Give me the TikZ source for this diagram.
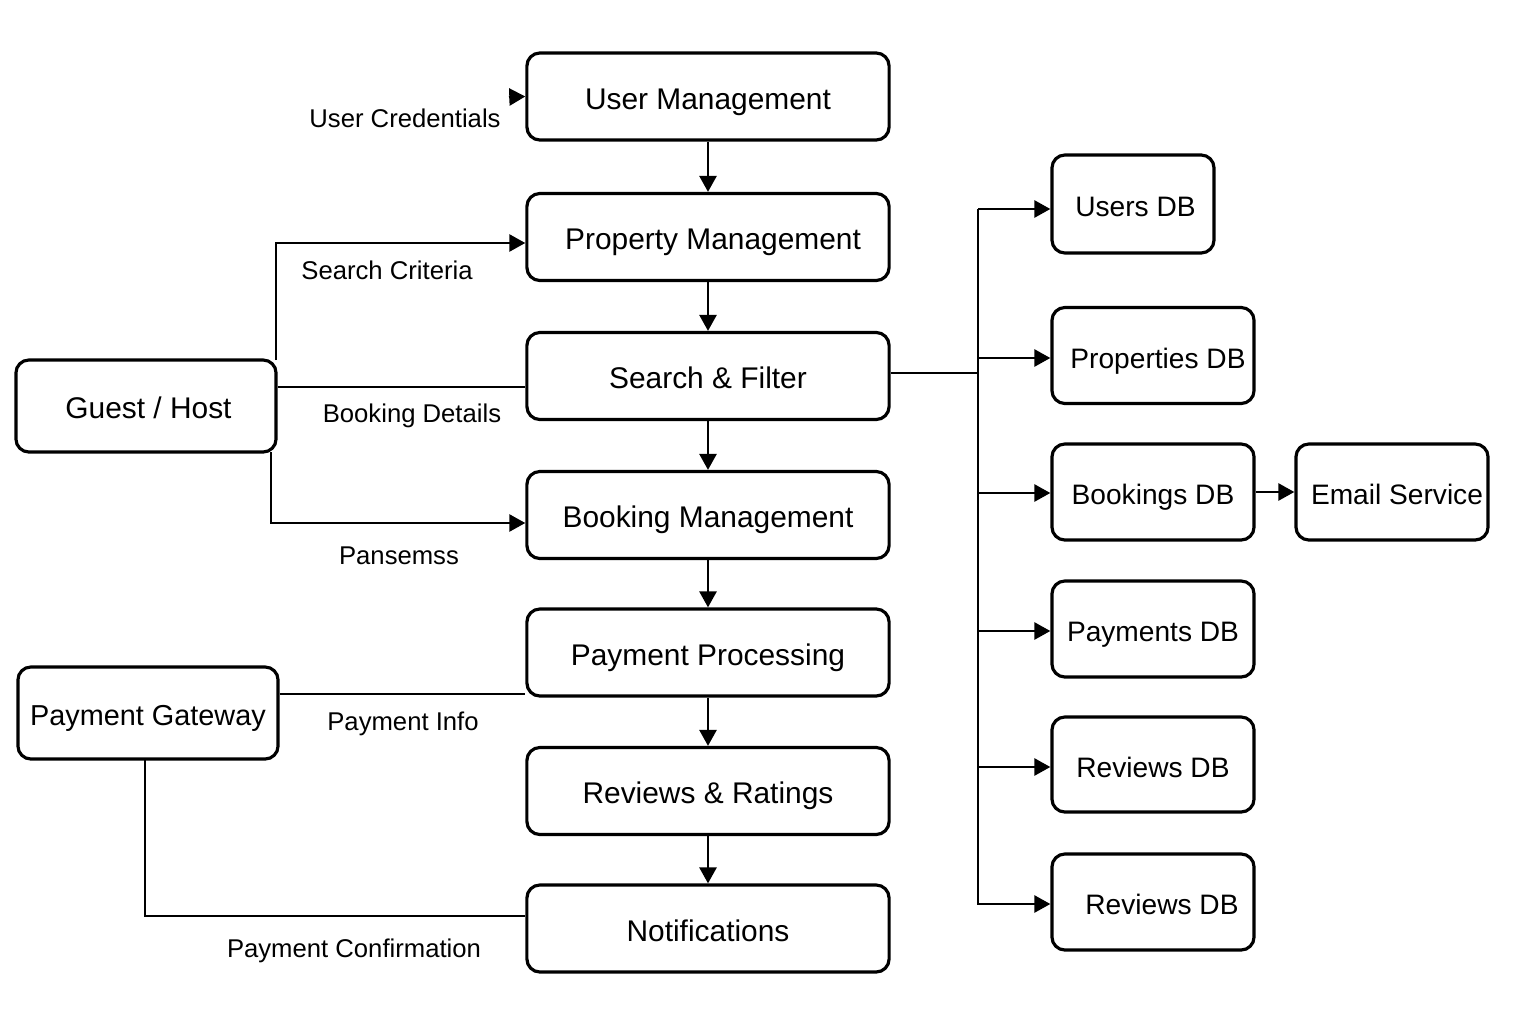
\documentclass[tikz,border=0pt]{standalone}
\usepackage{fontspec}
\setmainfont{Liberation Sans}
\usetikzlibrary{arrows.meta}
\begin{document}
\begin{tikzpicture}[x=0.01cm,y=-0.01cm,
  box/.style={draw=black,line width=0.9pt,rounded corners=0.13cm,inner sep=0pt,align=center,text height=0.72em,text depth=0pt},
  mainbox/.style={box,minimum width=3.62cm,minimum height=0.87cm,font=\fontsize{8.5}{10}\selectfont},
  dbbox/.style={box,minimum width=2.02cm,minimum height=0.96cm,font=\fontsize{8}{10}\selectfont},
  lbl/.style={font=\fontsize{7.3}{9}\selectfont,inner sep=0pt},
  conn/.style={line width=0.75pt},
  arr/.style={conn,-{Triangle[length=0.16cm,width=0.17cm]}}]
\useasboundingbox[fill=white] (0,0) rectangle (1536,1024);

% central stack
\node[mainbox] (um) at (708,96.5) {User Management};
\node[mainbox] (pm) at (708,237) {\hspace{0.1cm}Property Management};
\node[mainbox] (sf) at (708,376) {Search \& Filter};
\node[mainbox] (bm) at (708,515) {Booking Management};
\node[mainbox] (pp) at (708,652.5) {Payment Processing};
\node[mainbox] (rr) at (708,791) {Reviews \& Ratings};
\node[mainbox] (nt) at (708,928.5) {Notifications};

% left actors
\node[box,minimum width=2.60cm,minimum height=0.92cm,font=\fontsize{8.5}{10}\selectfont] (gh) at (146,406) {\hspace{0.05cm}Guest / Host};
\node[box,minimum width=2.60cm,minimum height=0.92cm,font=\fontsize{8.2}{10}\selectfont] (pg) at (148,713) {Payment Gateway};

% databases
\node[dbbox,minimum width=1.62cm,minimum height=0.98cm] (udb) at (1133,204) {\hspace{0.05cm}Users DB};
\node[dbbox] (pdb) at (1153,355.5) {\hspace{0.1cm}Properties DB};
\node[dbbox] (bdb) at (1153,492) {Bookings DB};
\node[dbbox,minimum width=1.92cm] (es) at (1392,492) {\hspace{0.1cm}Email Service};
\node[dbbox] (paydb) at (1153,629) {Payments DB};
\node[dbbox,minimum height=0.95cm] (rdb) at (1153,764.5) {Reviews DB};
\node[dbbox] (rdb2) at (1153,902) {\hspace{0.18cm}Reviews DB};

% vertical flow
\foreach \a/\b in {um/pm,pm/sf,sf/bm,bm/pp,pp/rr,rr/nt}
  \draw[arr] (\a.south) -- (\b.north);

% user credentials
\coordinate (uc) at (509,97);
\draw[arr] (uc) -- (um.west);
\node[lbl] (ucl) at (405,118) {User Credentials};

% guest/host connections
\coordinate (ghtop) at (276,360);
\coordinate (scy) at (0,243);
\draw[arr] (ghtop) |- (pm.west |- scy);
\node[lbl] (scl) at (387,270) {Search Criteria};

\coordinate (bdy) at (0,387);
\draw[conn] (gh.east |- bdy) -- (sf.west |- bdy);
\node[lbl] (bdl) at (412,416) {Booking Details};

\coordinate (ghbot) at (271,452);
\coordinate (bmy) at (0,523);
\draw[arr] (ghbot) |- (bm.west |- bmy);
\node[lbl] (pnl) at (399,556) {Pansemss};

% payment gateway connections
\coordinate (piy) at (0,694);
\draw[conn] (pg.east |- piy) -- (pp.west |- piy);
\node[lbl] (pil) at (403,724) {Payment Info};

\coordinate (pgbot) at (145,759);
\coordinate (pcy) at (0,916);
\draw[conn] (pgbot) |- (nt.west |- pcy);
\node[lbl] (pcl) at (354,951) {Payment Confirmation};

% bus to databases
\coordinate (sfy) at (0,373);
\coordinate (bt) at (978,209);
\coordinate (bb) at (978,905);
\draw[conn] (sf.east |- sfy) -- (bt |- sfy);
\draw[conn] (bt) -- (bb);
\draw[arr] (bt) -- (udb.west |- bt);
\foreach \n/\yy in {pdb/358,bdb/493,paydb/631,rdb/767,rdb2/904}{
  \coordinate (t) at (978,\yy);
  \draw[arr] (t) -- (\n.west |- t);
}
\draw[arr] (bdb.east) -- (es.west);
\end{tikzpicture}
\end{document}
